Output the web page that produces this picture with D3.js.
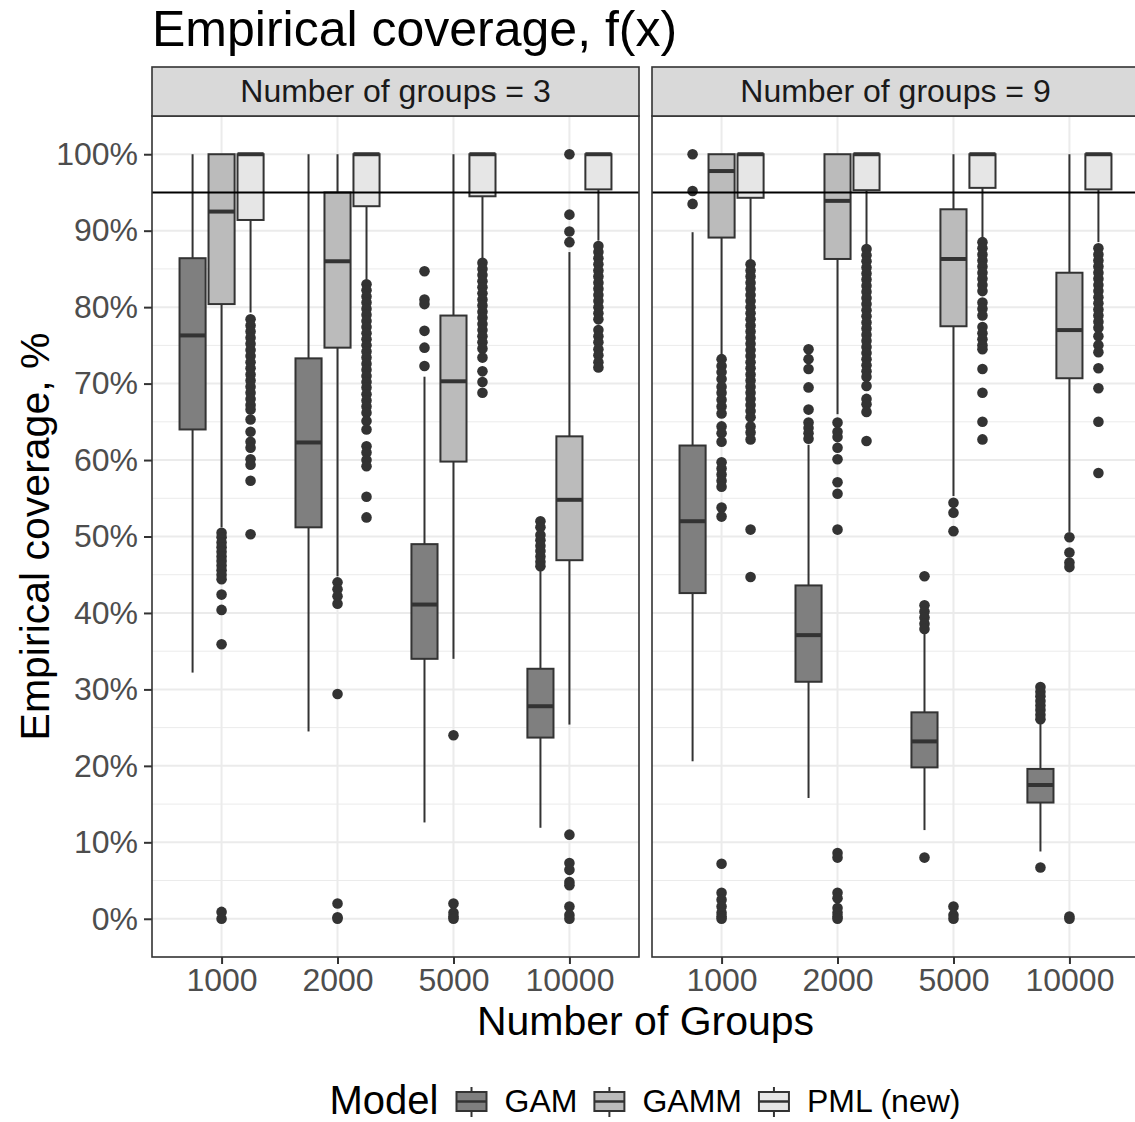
<!DOCTYPE html>
<html lang="en">
<head>
<meta charset="UTF-8" />
<script src="https://d3js.org/d3.v7.min.js"></script>
<title>Empirical coverage</title>
<style>
  body { margin: 0; background: #fff; }
  svg text { font-family: "Liberation Sans", Arial, Helvetica, sans-serif; }
</style>
</head>
<body>
<svg id="chart" width="1135" height="1122"></svg>
<script>
// ---- data ----
const panelTitles = ['Number of groups = 3', 'Number of groups = 9'];
const groupSizes = ['1000', '2000', '5000', '10000'];
const models = ['GAM', 'GAMM', 'PML (new)'];
const modelFills = ['#7f7f7f', '#bbbbbb', '#e6e6e6'];
const yTicks = [0, 10, 20, 30, 40, 50, 60, 70, 80, 90, 100];
const yMinorTicks = [5, 15, 25, 35, 45, 55, 65, 75, 85, 95];
const targetCoverage = 95;

// [lower whisker, Q1, median, Q3, upper whisker]; rows go 1000 GAM, 1000 GAMM, 1000 PML, 2000 GAM ...
const statsGroups3 = [
  [32.2, 64.0, 76.3, 86.4, 100],
  [51.2, 80.4, 92.5, 100, 100],
  [79.3, 91.4, 100, 100, 100],
  [24.5, 51.2, 62.3, 73.3, 100],
  [44.8, 74.7, 86.0, 95.0, 100],
  [83.6, 93.2, 100, 100, 100],
  [12.6, 34.0, 41.1, 49.0, 70.9],
  [34.0, 59.8, 70.3, 78.9, 100],
  [86.3, 94.5, 100, 100, 100],
  [11.9, 23.7, 27.8, 32.7, 45.7],
  [25.4, 46.9, 54.8, 63.1, 87.2],
  [88.7, 95.4, 100, 100, 100]
];
const statsGroups9 = [
  [20.6, 42.6, 52.0, 61.9, 89.8],
  [73.8, 89.1, 97.8, 100, 100],
  [86.0, 94.3, 100, 100, 100],
  [15.8, 31.0, 37.1, 43.6, 62.0],
  [66.0, 86.3, 93.9, 100, 100],
  [88.2, 95.3, 100, 100, 100],
  [11.6, 19.8, 23.2, 27.0, 37.4],
  [55.3, 77.5, 86.3, 92.8, 100],
  [89.1, 95.6, 100, 100, 100],
  [8.8, 15.2, 17.5, 19.6, 25.8],
  [50.6, 70.7, 77.0, 84.5, 100],
  [88.5, 95.4, 100, 100, 100]
];

// outlying points, same row order as the stats
const outliersGroups3 = [
  [],
  [50.5, 49.9, 49.2, 48.6, 48.0, 47.4, 46.8, 46.2, 45.6, 45.0, 44.4, 42.4, 40.4, 35.9, 0.9, 0],
  [78.4, 77.6, 76.8, 76.0, 75.2, 74.4, 73.6, 72.8, 72.0, 71.2, 70.4, 69.6, 68.8, 68.0, 67.2, 66.6, 65.3, 63.7, 62.4, 61.6, 60.1, 59.4, 57.3, 50.3],
  [],
  [44.0, 43.1, 42.2, 41.2, 29.4, 2.0, 0.2, 0],
  [83.0, 82.2, 81.4, 80.6, 79.8, 79.0, 78.2, 77.4, 76.6, 75.8, 75.0, 74.2, 73.4, 72.6, 71.8, 71.0, 70.2, 69.5, 68.6, 67.8, 67.0, 66.2, 65.1, 64.0, 61.8, 61.0, 60.0, 59.2, 55.2, 52.5],
  [84.7, 81.0, 80.4, 76.9, 74.7, 72.3],
  [24.0, 2.0, 0.8, 0.3, 0],
  [85.8, 85.0, 84.2, 83.4, 82.6, 81.8, 81.0, 80.2, 79.4, 78.6, 77.8, 77.0, 76.2, 75.4, 74.6, 73.4, 71.6, 70.2, 68.8],
  [52.0, 51.2, 50.2, 49.5, 48.8, 48.1, 47.4, 46.7, 46.1],
  [100, 92.1, 89.9, 88.5, 11.0, 7.3, 6.4, 4.8, 4.4, 1.6, 0.5, 0],
  [88.0, 87.2, 86.4, 85.6, 84.8, 84.0, 83.2, 82.4, 81.6, 80.8, 80.0, 79.2, 78.4, 77.0, 76.2, 75.4, 74.5, 73.7, 72.8, 72.1]
];
const outliersGroups9 = [
  [100, 95.2, 93.5],
  [73.2, 72.3, 71.5, 70.6, 69.6, 68.8, 67.9, 67.0, 66.1, 64.4, 63.5, 62.4, 59.7, 58.9, 58.1, 57.3, 56.5, 53.8, 52.6, 7.2, 3.4, 2.5, 1.6, 0.8, 0.3, 0],
  [85.6, 84.8, 84.0, 83.2, 82.4, 81.6, 80.8, 80.0, 79.2, 78.4, 77.6, 76.8, 76.0, 75.2, 74.4, 73.6, 72.8, 72.0, 71.2, 70.4, 69.6, 68.8, 68.0, 67.2, 66.4, 65.6, 64.4, 63.6, 62.7, 50.9, 44.7],
  [74.5, 73.2, 71.9, 69.5, 66.6, 64.9, 64.2, 63.5, 62.8],
  [64.9, 63.7, 63.0, 61.6, 60.1, 57.1, 55.6, 50.9, 8.6, 8.0, 3.4, 2.7, 1.4, 0.8, 0.3, 0],
  [87.6, 86.8, 86.0, 85.2, 84.4, 83.6, 82.8, 82.0, 81.2, 80.4, 79.6, 78.8, 78.0, 77.2, 76.4, 75.6, 74.8, 74.0, 73.2, 72.4, 71.6, 70.9, 69.7, 68.0, 67.3, 66.3, 62.5],
  [44.8, 41.0, 40.2, 39.4, 38.6, 37.9, 8.0],
  [54.4, 53.1, 50.7, 1.6, 0.5, 0],
  [88.5, 87.7, 86.9, 86.1, 85.3, 84.5, 83.7, 82.9, 82.1, 80.6, 79.8, 78.9, 77.4, 76.6, 75.8, 75.0, 74.5, 71.9, 68.8, 65.0, 62.7],
  [30.3, 29.7, 29.1, 28.5, 27.9, 27.3, 26.7, 26.1, 6.7],
  [49.9, 47.9, 46.6, 46.0, 0.3, 0],
  [87.7, 86.9, 86.1, 85.3, 84.5, 83.7, 82.9, 82.1, 81.3, 80.5, 79.7, 78.9, 78.1, 77.3, 76.2, 75.0, 74.1, 72.0, 69.4, 65.0, 58.3]
];

// ---- layout ----
const svg = d3.select('#chart');
const dark = '#333333';
const gridCol = '#ebebeb';

const panelW = 487;
const panelLefts = [152, 652];
const stripTop = 67, panelTop = 116, panelBottom = 957;

const y = d3.scaleLinear().domain([-5, 105]).range([panelBottom - panelTop, 0]);
const x = d3.scalePoint().domain(groupSizes).range([0, panelW]).padding(0.6);
const step = x.step();
const dodge = d3.scaleBand().domain(models)
  .range([-0.375 * step, 0.375 * step])
  .paddingInner(0.1).paddingOuter(0.05);

const fill = d3.scaleOrdinal().domain(models).range(modelFills);

const toRows = (stats, outs) => stats.map((s, i) => ({
  size: groupSizes[Math.floor(i / models.length)],
  model: models[i % models.length],
  lo: s[0], q1: s[1], med: s[2], q3: s[3], hi: s[4],
  outliers: outs[i]
}));
const panelData = [toRows(statsGroups3, outliersGroups3), toRows(statsGroups9, outliersGroups9)];

// title
svg.append('text')
  .attr('x', 152).attr('y', 46)
  .attr('font-size', 50).attr('fill', '#000')
  .text('Empirical coverage, f(x)');

panelData.forEach((rows, p) => {
  const g = svg.append('g').attr('transform', `translate(${panelLefts[p]},${panelTop})`);
  const innerH = panelBottom - panelTop;

  // strip
  svg.append('rect')
    .attr('x', panelLefts[p]).attr('y', stripTop)
    .attr('width', panelW).attr('height', panelTop - stripTop)
    .attr('fill', '#d9d9d9').attr('stroke', dark).attr('stroke-width', 1.6);
  svg.append('text')
    .attr('x', panelLefts[p] + panelW / 2).attr('y', stripTop + 35)
    .attr('text-anchor', 'middle').attr('font-size', 32).attr('fill', '#1a1a1a')
    .text(panelTitles[p]);

  g.append('rect').attr('width', panelW).attr('height', innerH).attr('fill', '#fff');

  // grid
  g.selectAll('.minor').data(yMinorTicks).enter().append('line')
    .attr('x1', 0).attr('x2', panelW)
    .attr('y1', d => y(d)).attr('y2', d => y(d))
    .attr('stroke', gridCol).attr('stroke-width', 1);
  g.selectAll('.major').data(yTicks).enter().append('line')
    .attr('x1', 0).attr('x2', panelW)
    .attr('y1', d => y(d)).attr('y2', d => y(d))
    .attr('stroke', gridCol).attr('stroke-width', 2);
  g.selectAll('.vmajor').data(groupSizes).enter().append('line')
    .attr('x1', d => x(d)).attr('x2', d => x(d))
    .attr('y1', 0).attr('y2', innerH)
    .attr('stroke', gridCol).attr('stroke-width', 2);

  // boxplots
  const cx = d => x(d.size) + dodge(d.model) + dodge.bandwidth() / 2;
  const boxes = g.selectAll('.box').data(rows).enter().append('g');

  boxes.each(function (d) {
    d3.select(this).selectAll('circle').data(d.outliers).enter().append('circle')
      .attr('cx', cx(d)).attr('cy', v => y(v)).attr('r', 5.3)
      .attr('fill', dark);
  });
  boxes.append('line')
    .attr('x1', cx).attr('x2', cx)
    .attr('y1', d => y(d.hi)).attr('y2', d => y(d.q3))
    .attr('stroke', dark).attr('stroke-width', 2);
  boxes.append('line')
    .attr('x1', cx).attr('x2', cx)
    .attr('y1', d => y(d.q1)).attr('y2', d => y(d.lo))
    .attr('stroke', dark).attr('stroke-width', 2);
  boxes.append('rect')
    .attr('x', d => cx(d) - dodge.bandwidth() / 2)
    .attr('y', d => y(d.q3))
    .attr('width', dodge.bandwidth())
    .attr('height', d => y(d.q1) - y(d.q3))
    .attr('fill', d => fill(d.model))
    .attr('stroke', dark).attr('stroke-width', 2);
  boxes.append('line')
    .attr('x1', d => cx(d) - dodge.bandwidth() / 2)
    .attr('x2', d => cx(d) + dodge.bandwidth() / 2)
    .attr('y1', d => y(d.med)).attr('y2', d => y(d.med))
    .attr('stroke', dark).attr('stroke-width', 4);

  // reference line at 95%
  g.append('line')
    .attr('x1', 0).attr('x2', panelW)
    .attr('y1', y(targetCoverage)).attr('y2', y(targetCoverage))
    .attr('stroke', '#000').attr('stroke-width', 2);

  g.append('rect').attr('width', panelW).attr('height', innerH)
    .attr('fill', 'none').attr('stroke', dark).attr('stroke-width', 1.6);

  // x axis
  const xAxisG = g.append('g').attr('transform', `translate(0,${innerH})`)
    .call(d3.axisBottom(x).tickSize(7).tickPadding(4));
  xAxisG.select('.domain').remove();
  xAxisG.selectAll('line').attr('stroke', dark).attr('stroke-width', 2);
  xAxisG.selectAll('text').attr('font-size', 32).attr('fill', '#4d4d4d')
    .attr('font-family', '"Liberation Sans", Arial, sans-serif');

  if (p === 0) {
    const yAxisG = g.append('g')
      .call(d3.axisLeft(y).tickValues(yTicks).tickFormat(d => d + '%').tickSize(8).tickPadding(6));
    yAxisG.select('.domain').remove();
    yAxisG.selectAll('line').attr('stroke', dark).attr('stroke-width', 2);
    yAxisG.selectAll('text').attr('font-size', 32).attr('fill', '#4d4d4d')
      .attr('font-family', '"Liberation Sans", Arial, sans-serif');
  }
});

// axis titles
svg.append('text')
  .attr('x', (panelLefts[0] + panelLefts[1] + panelW) / 2).attr('y', 1035)
  .attr('text-anchor', 'middle').attr('font-size', 41).attr('fill', '#000')
  .text('Number of Groups');
svg.append('text')
  .attr('transform', `translate(49,${(panelTop + panelBottom) / 2}) rotate(-90)`)
  .attr('text-anchor', 'middle').attr('font-size', 41).attr('fill', '#000')
  .text('Empirical coverage, %');

// legend
const legend = svg.append('g');
const legendBase = 1114;
const legendTitle = legend.append('text').attr('y', legendBase)
  .attr('font-size', 40).attr('fill', '#000').text('Model');
let cursor = legendTitle.node().getComputedTextLength() + 18;
models.forEach((m, i) => {
  const k = legend.append('g').attr('transform', `translate(${cursor},1087)`);
  k.append('line').attr('x1', 15).attr('x2', 15).attr('y1', 0).attr('y2', 30)
    .attr('stroke', dark).attr('stroke-width', 2);
  k.append('rect').attr('x', 0).attr('y', 5).attr('width', 30).attr('height', 19)
    .attr('fill', fill(m)).attr('stroke', dark).attr('stroke-width', 2);
  k.append('line').attr('x1', 0).attr('x2', 30).attr('y1', 14.5).attr('y2', 14.5)
    .attr('stroke', dark).attr('stroke-width', 2.5);
  cursor += 30 + 18;
  const t = legend.append('text').attr('x', cursor).attr('y', legendBase - 2)
    .attr('font-size', 32).attr('fill', '#000').text(m);
  cursor += t.node().getComputedTextLength() + (i < models.length - 1 ? 17 : 0);
});
legend.attr('transform', `translate(${645 - cursor / 2},0)`);
</script>
</body>
</html>
